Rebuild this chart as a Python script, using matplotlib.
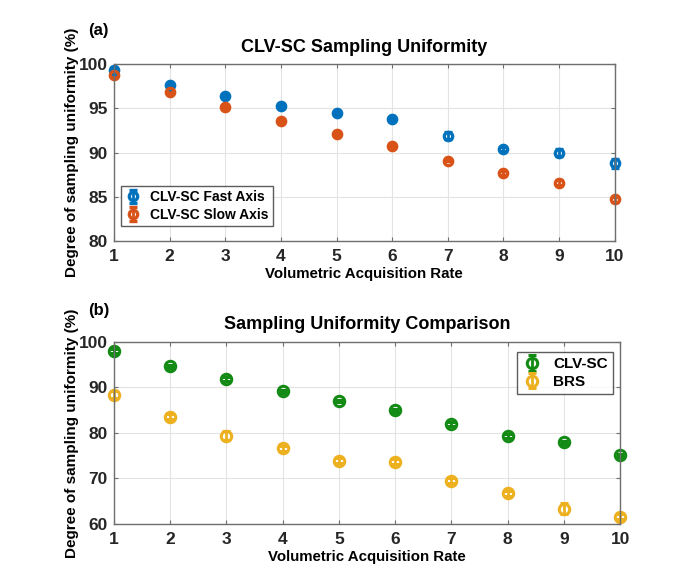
import matplotlib
matplotlib.use("Agg")
import matplotlib.pyplot as plt
import numpy as np

plt.rcParams['font.family'] = ['Liberation Sans', 'DejaVu Sans']
plt.rcParams['font.weight'] = 'bold'

rates = [1, 2, 3, 4, 5, 6, 7, 8, 9, 10]

fast_axis = [99.3, 97.6, 96.4, 95.3, 94.5, 93.8, 91.9, 90.4, 90.0, 88.8]
fast_err = [0.25, 0.15, 0.15, 0.15, 0.15, 0.1, 0.4, 0.2, 0.4, 0.5]
slow_axis = [98.8, 96.8, 95.1, 93.6, 92.1, 90.7, 89.1, 87.7, 86.6, 84.7]
slow_err = [0.2, 0.15, 0.15, 0.15, 0.15, 0.1, 0.1, 0.2, 0.25, 0.3]

clvsc = [98.0, 94.6, 91.8, 89.1, 87.0, 85.0, 81.9, 79.3, 77.9, 75.1]
clvsc_err = [0.4, 0.3, 0.4, 0.3, 0.3, 0.3, 0.4, 0.4, 0.4, 0.3]
brs = [88.4, 83.6, 79.4, 76.6, 73.9, 73.7, 69.5, 66.7, 63.3, 61.6]
brs_err = [0.8, 0.5, 1.0, 0.5, 0.5, 0.5, 0.5, 0.5, 1.2, 0.5]

c_blue = '#0072BD'
c_orange = '#D95319'
c_green = '#138A13'
c_yellow = '#EDB120'

fig = plt.figure(figsize=(6.85, 5.8), dpi=100)
ax1 = fig.add_axes([0.1664, 0.5845, 0.731, 0.305])
ax2 = fig.add_axes([0.1664, 0.0966, 0.739, 0.314])

def style(ax, yticks, ylim):
    ax.set_xlim(1, 10)
    ax.set_ylim(*ylim)
    ax.set_xticks(rates)
    ax.set_yticks(yticks)
    ax.grid(True, color='#e3e3e3', linewidth=0.8)
    ax.set_axisbelow(True)
    for s in ax.spines.values():
        s.set_color('#6e6e6e')
        s.set_linewidth(1.0)
    ax.tick_params(direction='in', length=3, color='#6e6e6e', labelsize=12.5,
                   top=True, right=True)
    ax.tick_params(axis='x', pad=6)
    ax.tick_params(axis='y', pad=4.5)
    for lab in ax.get_xticklabels() + ax.get_yticklabels():
        lab.set_fontweight('bold')
        lab.set_color('#262626')
    ax.set_xlabel('Volumetric Acquisition Rate', fontsize=10.8, fontweight='bold', labelpad=2)
    ax.set_ylabel('Degree of sampling uniformity (%)', fontsize=11, fontweight='bold', labelpad=0)

kw1 = dict(fmt='o', markersize=6, markerfacecolor='none', markeredgewidth=2.4,
           elinewidth=2.0, capsize=3, capthick=2.0, clip_on=False)
kw2 = dict(fmt='o', markersize=7.5, markerfacecolor='none', markeredgewidth=2.2,
           elinewidth=2.0, capsize=3, capthick=2.0, clip_on=False)

ax1.errorbar(rates, fast_axis, yerr=fast_err, color=c_blue, label='CLV-SC Fast Axis', **kw1)
ax1.errorbar(rates, slow_axis, yerr=slow_err, color=c_orange, label='CLV-SC Slow Axis', **kw1)
style(ax1, [80, 85, 90, 95, 100], (80, 100))
ax1.set_title('CLV-SC Sampling Uniformity', fontsize=13, fontweight='bold', pad=9)
leg1 = ax1.legend(loc='lower left', bbox_to_anchor=(0.014, 0.085), fancybox=False,
                  edgecolor='#333333', prop={'weight': 'bold', 'size': 10},
                  handletextpad=0.6, borderpad=0.3, labelspacing=0.25, handlelength=1.2,
                  borderaxespad=0)
leg1.get_frame().set_linewidth(1.0)
fig.text(0.128, 0.94, '(a)', fontsize=12, fontweight='bold')

ax2.errorbar(rates, clvsc, yerr=clvsc_err, color=c_green, label='CLV-SC', **kw2)
ax2.errorbar(rates, brs, yerr=brs_err, color=c_yellow, label='BRS', **kw2)
style(ax2, [60, 70, 80, 90, 100], (60, 100))
ax2.set_title('Sampling Uniformity Comparison', fontsize=13, fontweight='bold', pad=9)
leg2 = ax2.legend(loc='upper right', bbox_to_anchor=(0.986, 0.945), fancybox=False,
                  edgecolor='#333333', prop={'weight': 'bold', 'size': 11},
                  handletextpad=0.8, borderpad=0.35, labelspacing=0.25, handlelength=1.2,
                  borderaxespad=0)
leg2.get_frame().set_linewidth(1.0)
fig.text(0.128, 0.457, '(b)', fontsize=12, fontweight='bold')

fig.savefig('out.png', dpi=100)
